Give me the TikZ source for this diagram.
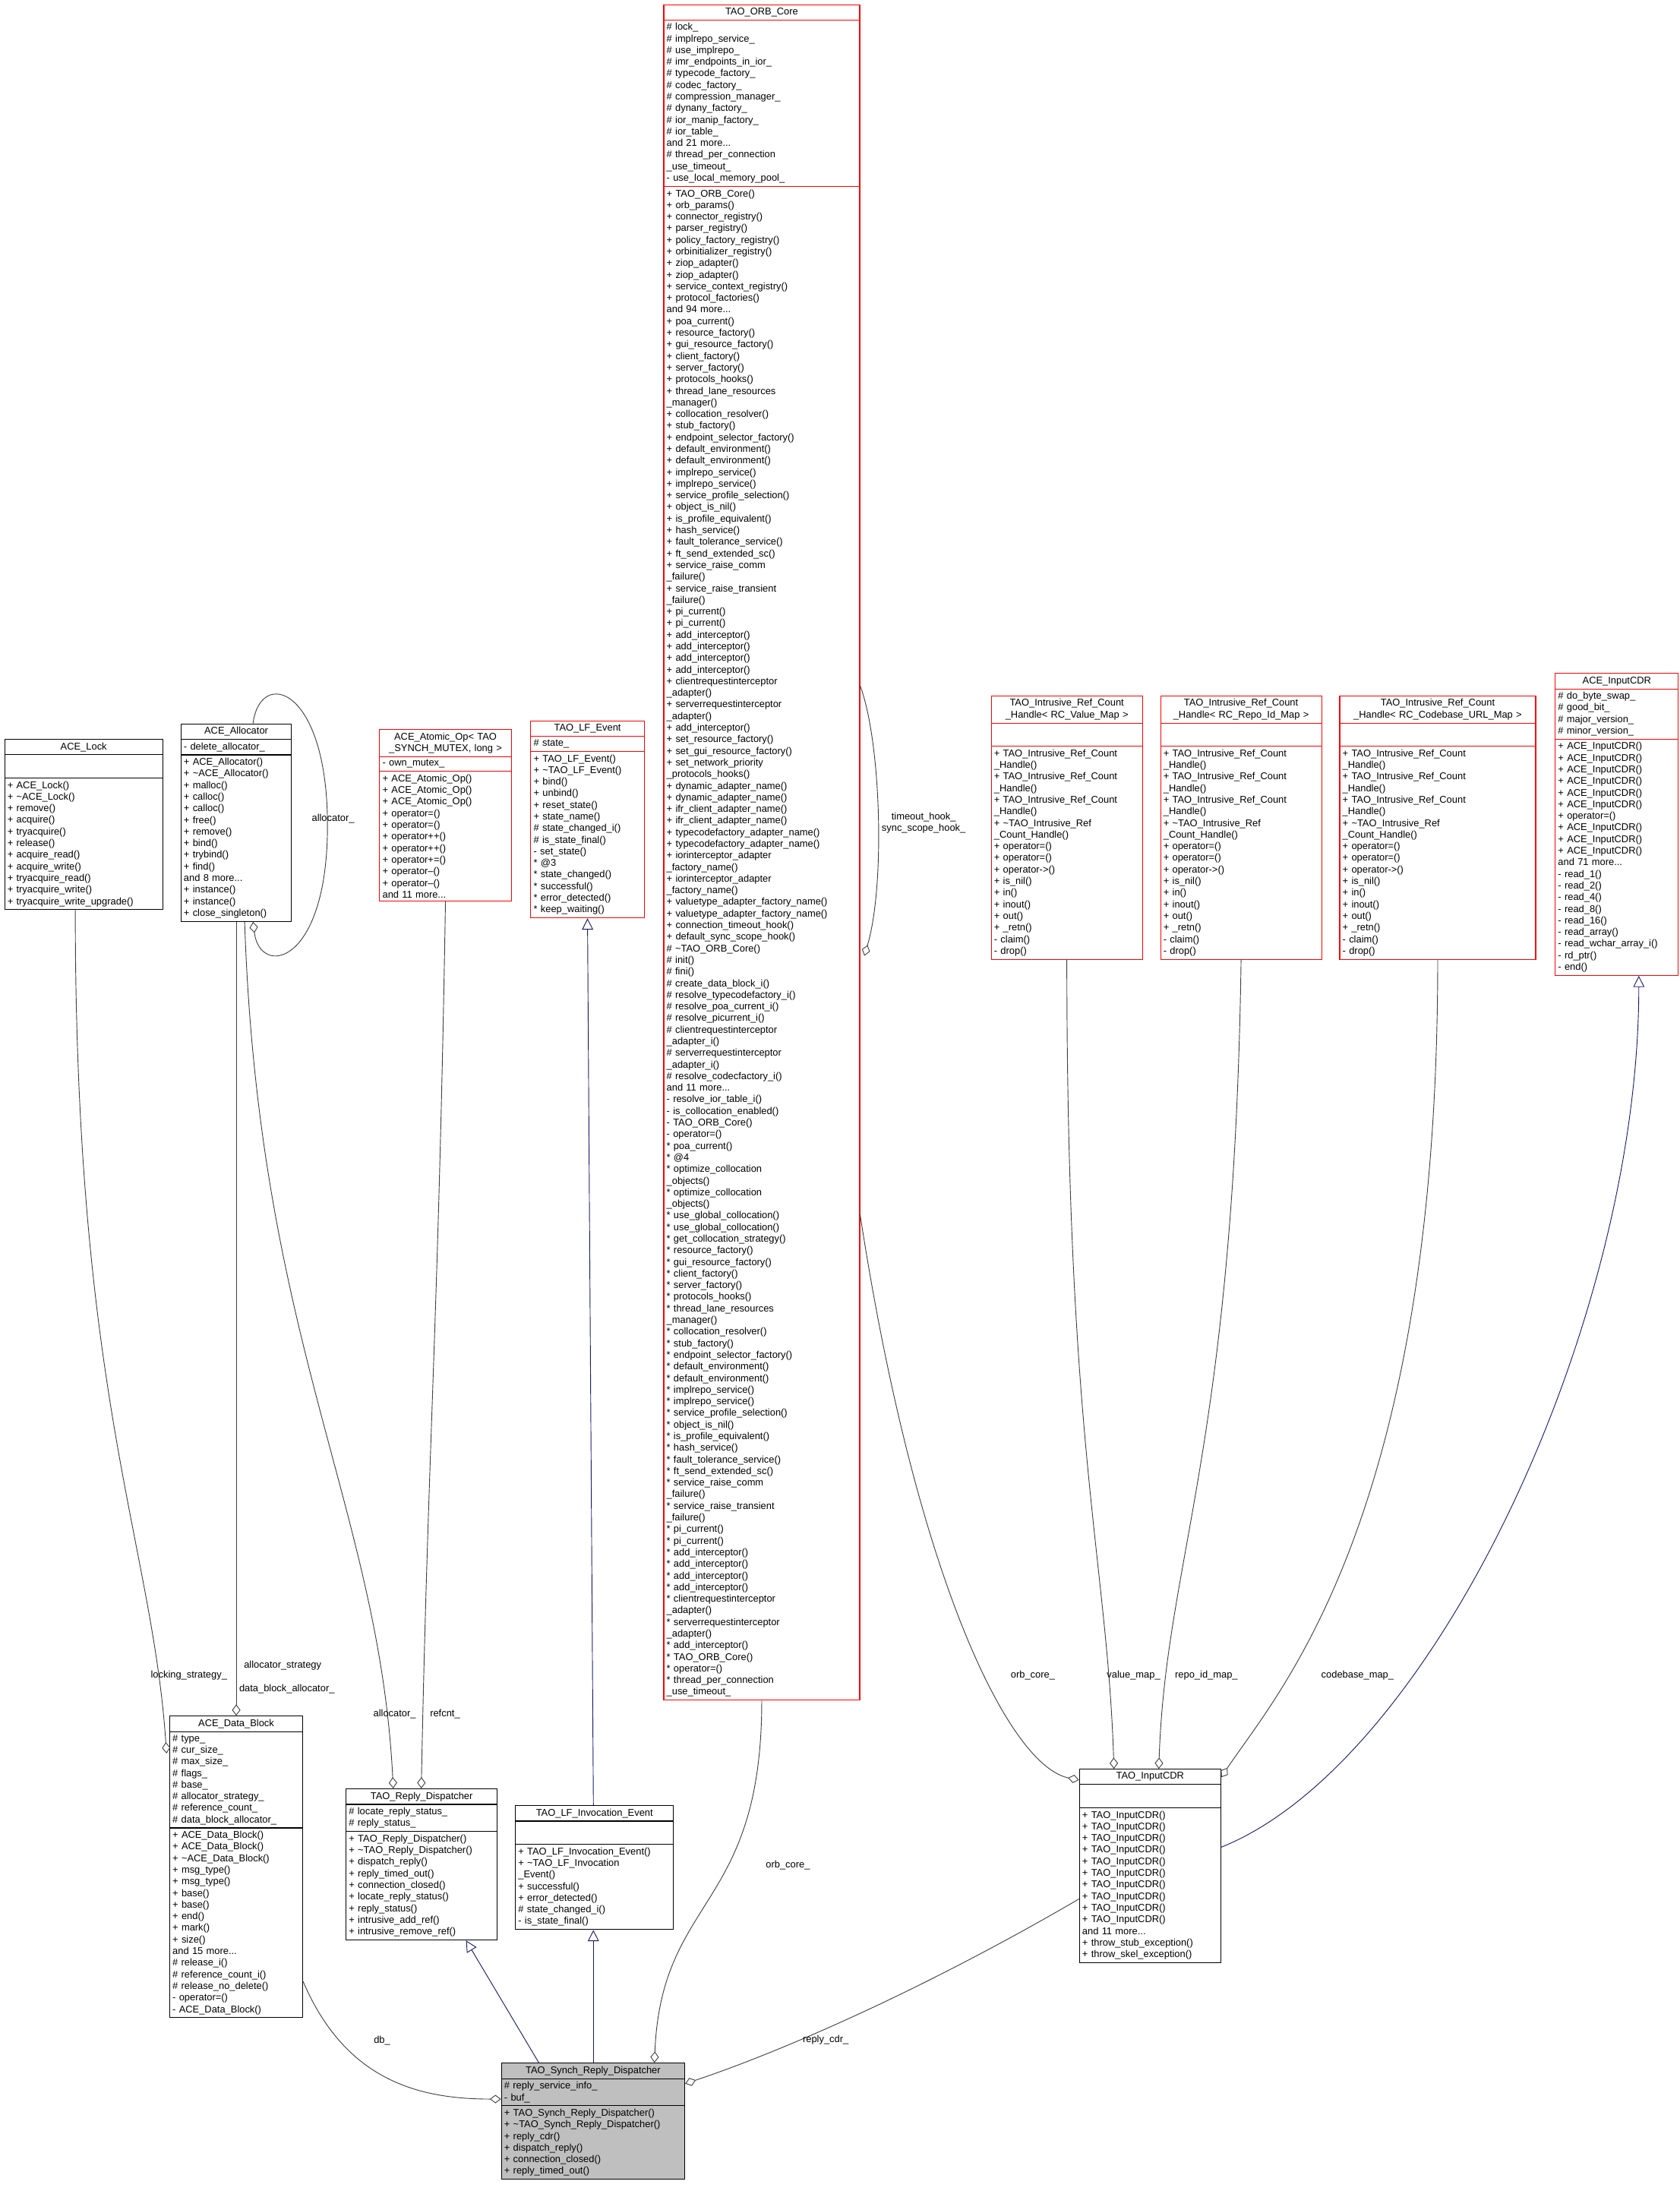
\documentclass[tikz,border=0pt]{standalone}
\usepackage{fontspec}
\setmainfont{Liberation Sans}
\usetikzlibrary{shapes.multipart,arrows.meta,calc}
\newcommand\tld{\textasciitilde}
\definecolor{edgegray}{HTML}{404040}
\definecolor{inhblue}{HTML}{191970}
\definecolor{boxred}{HTML}{FF0000}
\tikzset{
  cls/.style={rectangle split, rectangle split parts=3, draw=black, line width=0.3pt,
    anchor=north west, align=left, inner sep=1pt,
    font=\fontsize{3.5}{4.15}\selectfont},
  redcls/.style={cls, draw=boxred},
  agg/.style={draw=edgegray, line width=0.25pt, -{Diamond[open,length=4pt,width=3pt]}},
  inh/.style={draw=inhblue, line width=0.25pt, -{Triangle[open,length=4pt,width=4pt]}},
  lbl/.style={font=\fontsize{3.5}{4.15}\selectfont, inner sep=0pt}
}
\begin{document}
\catcode`\_=12
\begin{tikzpicture}[x=0.5pt,y=-0.5pt]
  \useasboundingbox (0,0) rectangle (1200,1570);
  % classes
  \node[redcls, text width=68pt] (orbcore) at (474,3) {{\centering TAO_ORB_Core\par}
  \nodepart{two}\# lock_\\\# implrepo_service_\\\# use_implrepo_\\\# imr_endpoints_in_ior_\\\# typecode_factory_\\\# codec_factory_\\\# compression_manager_\\\# dynany_factory_\\\# ior_manip_factory_\\\# ior_table_\\and 21 more...\\\# thread_per_connection\\_use_timeout_\\- use_local_memory_pool_
  \nodepart{three}+ TAO_ORB_Core()\\+ orb_params()\\+ connector_registry()\\+ parser_registry()\\+ policy_factory_registry()\\+ orbinitializer_registry()\\+ ziop_adapter()\\+ ziop_adapter()\\+ service_context_registry()\\+ protocol_factories()\\and 94 more...\\+ poa_current()\\+ resource_factory()\\+ gui_resource_factory()\\+ client_factory()\\+ server_factory()\\+ protocols_hooks()\\+ thread_lane_resources\\_manager()\\+ collocation_resolver()\\+ stub_factory()\\+ endpoint_selector_factory()\\+ default_environment()\\+ default_environment()\\+ implrepo_service()\\+ implrepo_service()\\+ service_profile_selection()\\+ object_is_nil()\\+ is_profile_equivalent()\\+ hash_service()\\+ fault_tolerance_service()\\+ ft_send_extended_sc()\\+ service_raise_comm\\_failure()\\+ service_raise_transient\\_failure()\\+ pi_current()\\+ pi_current()\\+ add_interceptor()\\+ add_interceptor()\\+ add_interceptor()\\+ add_interceptor()\\+ clientrequestinterceptor\\_adapter()\\+ serverrequestinterceptor\\_adapter()\\+ add_interceptor()\\+ set_resource_factory()\\+ set_gui_resource_factory()\\+ set_network_priority\\_protocols_hooks()\\+ dynamic_adapter_name()\\+ dynamic_adapter_name()\\+ ifr_client_adapter_name()\\+ ifr_client_adapter_name()\\+ typecodefactory_adapter_name()\\+ typecodefactory_adapter_name()\\+ iorinterceptor_adapter\\_factory_name()\\+ iorinterceptor_adapter\\_factory_name()\\+ valuetype_adapter_factory_name()\\+ valuetype_adapter_factory_name()\\+ connection_timeout_hook()\\+ default_sync_scope_hook()\\\# \tld TAO_ORB_Core()\\\# init()\\\# fini()\\\# create_data_block_i()\\\# resolve_typecodefactory_i()\\\# resolve_poa_current_i()\\\# resolve_picurrent_i()\\\# clientrequestinterceptor\\_adapter_i()\\\# serverrequestinterceptor\\_adapter_i()\\\# resolve_codecfactory_i()\\and 11 more...\\- resolve_ior_table_i()\\- is_collocation_enabled()\\- TAO_ORB_Core()\\- operator=()\\{}* poa_current()\\{}* @4\\{}* optimize_collocation\\_objects()\\{}* optimize_collocation\\_objects()\\{}* use_global_collocation()\\{}* use_global_collocation()\\{}* get_collocation_strategy()\\{}* resource_factory()\\{}* gui_resource_factory()\\{}* client_factory()\\{}* server_factory()\\{}* protocols_hooks()\\{}* thread_lane_resources\\_manager()\\{}* collocation_resolver()\\{}* stub_factory()\\{}* endpoint_selector_factory()\\{}* default_environment()\\{}* default_environment()\\{}* implrepo_service()\\{}* implrepo_service()\\{}* service_profile_selection()\\{}* object_is_nil()\\{}* is_profile_equivalent()\\{}* hash_service()\\{}* fault_tolerance_service()\\{}* ft_send_extended_sc()\\{}* service_raise_comm\\_failure()\\{}* service_raise_transient\\_failure()\\{}* pi_current()\\{}* pi_current()\\{}* add_interceptor()\\{}* add_interceptor()\\{}* add_interceptor()\\{}* add_interceptor()\\{}* clientrequestinterceptor\\_adapter()\\{}* serverrequestinterceptor\\_adapter()\\{}* add_interceptor()\\{}* TAO_ORB_Core()\\{}* operator=()\\{}* thread_per_connection\\_use_timeout_};
  \node[cls, text width=54.5pt] (acelock) at (3,528) {{\centering ACE_Lock\par}
  \nodepart{two}\rule{0pt}{6pt}
  \nodepart{three}+ ACE_Lock()\\+ \tld ACE_Lock()\\+ remove()\\+ acquire()\\+ tryacquire()\\+ release()\\+ acquire_read()\\+ acquire_write()\\+ tryacquire_read()\\+ tryacquire_write()\\+ tryacquire_write_upgrade()};
  \node[cls, text width=37.5pt] (alloc) at (129,517) {{\centering ACE_Allocator\par}
  \nodepart{two}- delete_allocator_
  \nodepart{three}+ ACE_Allocator()\\+ \tld ACE_Allocator()\\+ malloc()\\+ calloc()\\+ calloc()\\+ free()\\+ remove()\\+ bind()\\+ trybind()\\+ find()\\and 8 more...\\+ instance()\\+ instance()\\+ close_singleton()};
  \node[redcls, text width=45pt] (atomic) at (271,521) {{\centering ACE_Atomic_Op< TAO\\_SYNCH_MUTEX, long >\par}
  \nodepart{two}- own_mutex_
  \nodepart{three}+ ACE_Atomic_Op()\\+ ACE_Atomic_Op()\\+ ACE_Atomic_Op()\\+ operator=()\\+ operator=()\\+ operator++()\\+ operator++()\\+ operator+=()\\+ operator--()\\+ operator--()\\and 11 more...};
  \node[redcls, text width=38.5pt] (lfevent) at (379,515) {{\centering TAO_LF_Event\par}
  \nodepart{two}\# state_
  \nodepart{three}+ TAO_LF_Event()\\+ \tld TAO_LF_Event()\\+ bind()\\+ unbind()\\+ reset_state()\\+ state_name()\\\# state_changed_i()\\\# is_state_final()\\- set_state()\\{}* @3\\{}* state_changed()\\{}* successful()\\{}* error_detected()\\{}* keep_waiting()};
  \node[redcls, text width=52pt] (valuemap) at (708,497) {{\centering TAO_Intrusive_Ref_Count\\_Handle< RC_Value_Map >\par}
  \nodepart{two}\rule{0pt}{6pt}
  \nodepart{three}+ TAO_Intrusive_Ref_Count\\_Handle()\\+ TAO_Intrusive_Ref_Count\\_Handle()\\+ TAO_Intrusive_Ref_Count\\_Handle()\\+ \tld TAO_Intrusive_Ref\\_Count_Handle()\\+ operator=()\\+ operator=()\\+ operator->()\\+ is_nil()\\+ in()\\+ inout()\\+ out()\\+ _retn()\\- claim()\\- drop()};
  \node[redcls, text width=55.5pt] (repomap) at (829,497) {{\centering TAO_Intrusive_Ref_Count\\_Handle< RC_Repo_Id_Map >\par}
  \nodepart{two}\rule{0pt}{6pt}
  \nodepart{three}+ TAO_Intrusive_Ref_Count\\_Handle()\\+ TAO_Intrusive_Ref_Count\\_Handle()\\+ TAO_Intrusive_Ref_Count\\_Handle()\\+ \tld TAO_Intrusive_Ref\\_Count_Handle()\\+ operator=()\\+ operator=()\\+ operator->()\\+ is_nil()\\+ in()\\+ inout()\\+ out()\\+ _retn()\\- claim()\\- drop()};
  \node[redcls, text width=68pt] (codemap) at (957,497) {{\centering TAO_Intrusive_Ref_Count\\_Handle< RC_Codebase_URL_Map >\par}
  \nodepart{two}\rule{0pt}{6pt}
  \nodepart{three}+ TAO_Intrusive_Ref_Count\\_Handle()\\+ TAO_Intrusive_Ref_Count\\_Handle()\\+ TAO_Intrusive_Ref_Count\\_Handle()\\+ \tld TAO_Intrusive_Ref\\_Count_Handle()\\+ operator=()\\+ operator=()\\+ operator->()\\+ is_nil()\\+ in()\\+ inout()\\+ out()\\+ _retn()\\- claim()\\- drop()};
  \node[redcls, text width=42pt] (aceinput) at (1111,481) {{\centering ACE_InputCDR\par}
  \nodepart{two}\# do_byte_swap_\\\# good_bit_\\\# major_version_\\\# minor_version_
  \nodepart{three}+ ACE_InputCDR()\\+ ACE_InputCDR()\\+ ACE_InputCDR()\\+ ACE_InputCDR()\\+ ACE_InputCDR()\\+ ACE_InputCDR()\\+ operator=()\\+ ACE_InputCDR()\\+ ACE_InputCDR()\\+ ACE_InputCDR()\\and 71 more...\\- read_1()\\- read_2()\\- read_4()\\- read_8()\\- read_16()\\- read_array()\\- read_wchar_array_i()\\- rd_ptr()\\- end()};
  \node[cls, text width=45.5pt] (datablock) at (121,1226) {{\centering ACE_Data_Block\par}
  \nodepart{two}\# type_\\\# cur_size_\\\# max_size_\\\# flags_\\\# base_\\\# allocator_strategy_\\\# reference_count_\\\# data_block_allocator_
  \nodepart{three}+ ACE_Data_Block()\\+ ACE_Data_Block()\\+ \tld ACE_Data_Block()\\+ msg_type()\\+ msg_type()\\+ base()\\+ base()\\+ end()\\+ mark()\\+ size()\\and 15 more...\\\# release_i()\\\# reference_count_i()\\\# release_no_delete()\\- operator=()\\- ACE_Data_Block()};
  \node[cls, text width=52pt] (replydisp) at (247,1278) {{\centering TAO_Reply_Dispatcher\par}
  \nodepart{two}\# locate_reply_status_\\\# reply_status_
  \nodepart{three}+ TAO_Reply_Dispatcher()\\+ \tld TAO_Reply_Dispatcher()\\+ dispatch_reply()\\+ reply_timed_out()\\+ connection_closed()\\+ locate_reply_status()\\+ reply_status()\\+ intrusive_add_ref()\\+ intrusive_remove_ref()};
  \node[cls, text width=54.5pt] (lfinvoc) at (368,1290) {{\centering TAO_LF_Invocation_Event\par}
  \nodepart{two}\rule{0pt}{6pt}
  \nodepart{three}+ TAO_LF_Invocation_Event()\\+ \tld TAO_LF_Invocation\\_Event()\\+ successful()\\+ error_detected()\\\# state_changed_i()\\- is_state_final()};
  \node[cls, text width=48.5pt] (taoinput) at (771,1264) {{\centering TAO_InputCDR\par}
  \nodepart{two}\rule{0pt}{6pt}
  \nodepart{three}+ TAO_InputCDR()\\+ TAO_InputCDR()\\+ TAO_InputCDR()\\+ TAO_InputCDR()\\+ TAO_InputCDR()\\+ TAO_InputCDR()\\+ TAO_InputCDR()\\+ TAO_InputCDR()\\+ TAO_InputCDR()\\+ TAO_InputCDR()\\and 11 more...\\+ throw_stub_exception()\\+ throw_skel_exception()};
  \node[cls, fill=black!25, text width=63.5pt] (synch) at (358,1474) {{\centering TAO_Synch_Reply_Dispatcher\par}
  \nodepart{two}\# reply_service_info_\\- buf_
  \nodepart{three}+ TAO_Synch_Reply_Dispatcher()\\+ \tld TAO_Synch_Reply_Dispatcher()\\+ reply_cdr()\\+ dispatch_reply()\\+ connection_closed()\\+ reply_timed_out()};
  % aggregation edges
  \draw[agg] ($(acelock.south)+(-6,0)$) .. controls +(0,350) and +(-10,-150) .. ($(datablock.north west)+(-2,27)$);
  \draw[agg] ($(alloc.south)+(0,0)$) .. controls +(0,200) and +(0,-200) .. ($(datablock.north)+(0,0)$);
  \draw[agg] ($(alloc.north)+(12,0)$) .. controls +(5,-40) and +(0,-100) .. (234,590)
    .. controls +(0,100) and +(5,40) .. ($(alloc.south)+(12,0)$);
  \draw[agg] ($(alloc.south)+(6,0)$) .. controls +(10,300) and +(-10,-200) .. ($(replydisp.north west)+(34,0)$);
  \draw[agg] (atomic.south) .. controls +(-5,300) and +(5,-250) .. ($(replydisp.north west)+(54,0)$);
  \draw[agg] ($(orbcore.north east)+(0,487)$) .. controls +(15,40) and +(15,-50) .. ($(orbcore.north east)+(3,680)$);
  \draw[agg] ($(orbcore.south)+(0,0)$) .. controls +(0,150) and +(5,-120) .. ($(synch.north east)+(-22,0)$);
  \draw[agg] ($(orbcore.north east)+(0,865)$) .. controls +(40,260) and +(-50,-10) .. ($(taoinput.north west)+(0,8)$);
  \draw[agg] (valuemap.south) .. controls +(0,350) and +(-5,-150) .. ($(taoinput.north west)+(25,0)$);
  \draw[agg] (repomap.south) .. controls +(-5,350) and +(5,-150) .. ($(taoinput.north west)+(57,0)$);
  \draw[agg] (codemap.south) .. controls +(0,400) and +(40,-60) .. ($(taoinput.north east)+(0,6)$);
  \draw[agg] ($(taoinput.north west)+(0,93)$) .. controls +(-120,70) and +(60,-20) .. ($(synch.north east)+(0,15)$);
  \draw[agg] ($(datablock.north east)+(0,190)$) .. controls +(30,70) and +(-60,0) .. ($(synch.north west)+(0,26)$);
  % inheritance edges
  \draw[inh] ($(lfinvoc.north west)+(56,0)$) -- (lfevent.south);
  \draw[inh] ($(taoinput.north east)+(0,56)$) .. controls +(150,-60) and +(0,250) .. ($(aceinput.south west)+(60,0)$);
  \draw[inh] ($(synch.north west)+(27,0)$) -- ($(replydisp.south west)+(86,0)$);
  \draw[inh] ($(synch.north west)+(66,0)$) -- ($(lfinvoc.south west)+(56,0)$);
  % edge labels
  \node[lbl] (llock) at (135,1197) {locking_strategy_};
  \node[lbl] (lstrat) at (202,1190) {allocator_strategy};
  \node[lbl] (ldba) at (205,1207) {data_block_allocator_};
  \node[lbl] (lalloc) at (238,585) {allocator_};
  \node[lbl] (lalloc2) at (282,1225) {allocator_};
  \node[lbl] (lrefcnt) at (318,1225) {refcnt_};
  \node[lbl, align=center] (lhook) at (660,588) {timeout_hook_\\sync_scope_hook_};
  \node[lbl] (lorb1) at (563,1333) {orb_core_};
  \node[lbl] (lorb2) at (738,1197) {orb_core_};
  \node[lbl] (lval) at (810,1197) {value_map_};
  \node[lbl] (lrepo) at (862,1197) {repo_id_map_};
  \node[lbl] (lcode) at (970,1197) {codebase_map_};
  \node[lbl] (lcdr) at (590,1458) {reply_cdr_};
  \node[lbl] (ldb) at (273,1458) {db_};
\end{tikzpicture}
\end{document}
